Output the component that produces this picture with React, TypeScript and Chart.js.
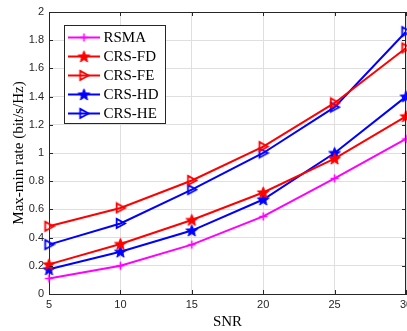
import React, { useEffect, useRef } from 'react';
import { Chart, registerables } from 'chart.js';

Chart.register(...registerables);

// ---- data ----
const snr = [5, 10, 15, 20, 25, 30];
const rsma = [0.11, 0.2, 0.35, 0.55, 0.82, 1.1];
const crsFD = [0.21, 0.355, 0.525, 0.72, 0.96, 1.26];
const crsFE = [0.48, 0.61, 0.805, 1.045, 1.355, 1.745];
const crsHD = [0.175, 0.3, 0.45, 0.67, 1.0, 1.4];
const crsHE = [0.35, 0.5, 0.74, 1.0, 1.325, 1.86];
const seriesLabels = ['RSMA', 'CRS-FD', 'CRS-FE', 'CRS-HD', 'CRS-HE'];
const xTickValues = [5, 10, 15, 20, 25, 30];
const yTickValues = [0, 0.2, 0.4, 0.6, 0.8, 1, 1.2, 1.4, 1.6, 1.8, 2];
const xTitle = 'SNR';
const yTitle = 'Max-min rate (bit/s/Hz)';

const MAGENTA = '#ff00ff';
const RED = '#ff0000';
const BLUE = '#0000ff';
const AXIS = '#262626';

function makeMarker(kind: string, color: string): HTMLCanvasElement {
  const c = document.createElement('canvas');
  const s = kind === 'star' ? 15 : kind === 'tri' ? 13 : 11;
  c.width = s;
  c.height = s;
  const ctx = c.getContext('2d') as CanvasRenderingContext2D;
  const cx = s / 2;
  const cy = s / 2;
  ctx.strokeStyle = color;
  ctx.fillStyle = color;
  ctx.lineJoin = 'miter';
  if (kind === 'cross') {
    ctx.lineWidth = 1.6;
    ctx.beginPath();
    ctx.moveTo(cx - 4, cy);
    ctx.lineTo(cx + 4, cy);
    ctx.moveTo(cx, cy - 4);
    ctx.lineTo(cx, cy + 4);
    ctx.stroke();
  } else if (kind === 'star') {
    ctx.lineWidth = 1;
    ctx.beginPath();
    for (let i = 0; i < 10; i++) {
      const r = i % 2 === 0 ? 6.2 : 2.6;
      const a = -Math.PI / 2 + (i * Math.PI) / 5;
      const px = cx + r * Math.cos(a);
      const py = cy + 0.5 + r * Math.sin(a);
      if (i === 0) ctx.moveTo(px, py);
      else ctx.lineTo(px, py);
    }
    ctx.closePath();
    ctx.fill();
    ctx.stroke();
  } else {
    ctx.lineWidth = 1.8;
    ctx.beginPath();
    ctx.moveTo(cx - 3.8, cy - 4.6);
    ctx.lineTo(cx + 4.6, cy);
    ctx.lineTo(cx - 3.8, cy + 4.6);
    ctx.closePath();
    ctx.stroke();
  }
  return c;
}

const legendPlugin = {
  id: 'matlabLegend',
  afterDraw(chart: any) {
    const ctx = chart.ctx as CanvasRenderingContext2D;
    const area = chart.chartArea;
    ctx.save();
    // axes box (top + right) and inward ticks
    ctx.strokeStyle = AXIS;
    ctx.lineWidth = 1;
    ctx.beginPath();
    ctx.moveTo(area.left, Math.round(area.top) + 0.5);
    ctx.lineTo(area.right, Math.round(area.top) + 0.5);
    ctx.moveTo(Math.round(area.right) - 0.5, area.top);
    ctx.lineTo(Math.round(area.right) - 0.5, area.bottom);
    const xs = chart.scales.x;
    const ys = chart.scales.y;
    xTickValues.forEach((v) => {
      const px = Math.round(xs.getPixelForValue(v)) + 0.5;
      ctx.moveTo(px, area.bottom);
      ctx.lineTo(px, area.bottom - 4);
      ctx.moveTo(px, area.top);
      ctx.lineTo(px, area.top + 4);
    });
    yTickValues.forEach((v) => {
      const py = Math.round(ys.getPixelForValue(v)) + 0.5;
      ctx.moveTo(area.left, py);
      ctx.lineTo(area.left + 4, py);
      ctx.moveTo(area.right, py);
      ctx.lineTo(area.right - 4, py);
    });
    ctx.stroke();

    // legend
    const bx = 64.5;
    const by = 25.5;
    const bw = 101;
    const bh = 98;
    ctx.fillStyle = '#ffffff';
    ctx.fillRect(bx, by, bw, bh);
    ctx.strokeStyle = AXIS;
    ctx.lineWidth = 1;
    ctx.strokeRect(bx, by, bw, bh);
    ctx.font = '15px "Liberation Serif", "Times New Roman", serif';
    ctx.textBaseline = 'middle';
    ctx.textAlign = 'left';
    chart.data.datasets.forEach((ds: any, i: number) => {
      const y = 37.5 + i * 19;
      ctx.strokeStyle = ds.borderColor;
      ctx.lineWidth = 2;
      ctx.beginPath();
      ctx.moveTo(68, y);
      ctx.lineTo(100, y);
      ctx.stroke();
      const img = ds.pointStyle as HTMLCanvasElement;
      ctx.drawImage(img, 84 - img.width / 2, y - img.height / 2);
      ctx.fillStyle = '#000000';
      ctx.fillText(ds.label, 103.5, y + 1);
    });
    ctx.restore();
  },
};

export default function App() {
  const ref = useRef<HTMLCanvasElement | null>(null);
  useEffect(() => {
    if (!ref.current) return;
    const series = [rsma, crsFD, crsFE, crsHD, crsHE];
    const colors = [MAGENTA, RED, RED, BLUE, BLUE];
    const kinds = ['cross', 'star', 'tri', 'star', 'tri'];
    const datasets = series.map((vals, i) => ({
      label: seriesLabels[i],
      data: snr.map((x, j) => ({ x, y: vals[j] })),
      borderColor: colors[i],
      backgroundColor: colors[i],
      borderWidth: 2,
      pointStyle: makeMarker(kinds[i], colors[i]),
      pointRadius: 5,
      tension: 0,
      clip: 8,
    }));
    const chart = new Chart(ref.current, {
      type: 'line',
      data: { datasets },
      plugins: [legendPlugin],
      options: {
        animation: false,
        responsive: false,
        maintainAspectRatio: false,
        layout: { padding: { left: 0, top: 12, right: 34, bottom: 0 } },
        plugins: { legend: { display: false }, tooltip: { enabled: false } },
        scales: {
          x: {
            type: 'linear',
            min: 5,
            max: 30,
            afterBuildTicks: (s: any) => {
              s.ticks = xTickValues.map((v) => ({ value: v }));
            },
            afterFit: (s: any) => {
              s.height = 37;
            },
            ticks: {
              padding: 4,
              color: AXIS,
              font: { family: '"Liberation Sans", Arial, sans-serif', size: 11 },
              maxRotation: 0,
              callback: (v: any) => String(v),
            },
            grid: { color: '#dfdfdf', drawTicks: false, lineWidth: 1 },
            border: { color: AXIS, width: 1 },
            title: {
              display: true,
              text: xTitle,
              color: '#000',
              font: { family: '"Liberation Serif", "Times New Roman", serif', size: 15 },
              padding: { top: 0, bottom: 0 },
            },
          },
          y: {
            type: 'linear',
            min: 0,
            max: 2,
            afterBuildTicks: (s: any) => {
              s.ticks = yTickValues.map((v) => ({ value: v }));
            },
            afterFit: (s: any) => {
              s.width = 49;
            },
            ticks: {
              padding: 5,
              color: AXIS,
              font: { family: '"Liberation Sans", Arial, sans-serif', size: 11 },
              callback: (v: any) => String(v),
            },
            grid: { color: '#dfdfdf', drawTicks: false, lineWidth: 1 },
            border: { color: AXIS, width: 1 },
            title: {
              display: true,
              text: yTitle,
              color: '#000',
              font: { family: '"Liberation Serif", "Times New Roman", serif', size: 15 },
              padding: { top: 10, bottom: 0 },
            },
          },
        },
      },
    });
    return () => chart.destroy();
  }, []);
  return (
    <div
      style={{
        position: 'fixed',
        left: 0,
        top: 0,
        width: 407,
        height: 331,
        overflow: 'hidden',
        background: '#fff',
      }}
    >
      <canvas ref={ref} width={440} height={331} style={{ display: 'block', width: 440, height: 331 }} />
    </div>
  );
}
